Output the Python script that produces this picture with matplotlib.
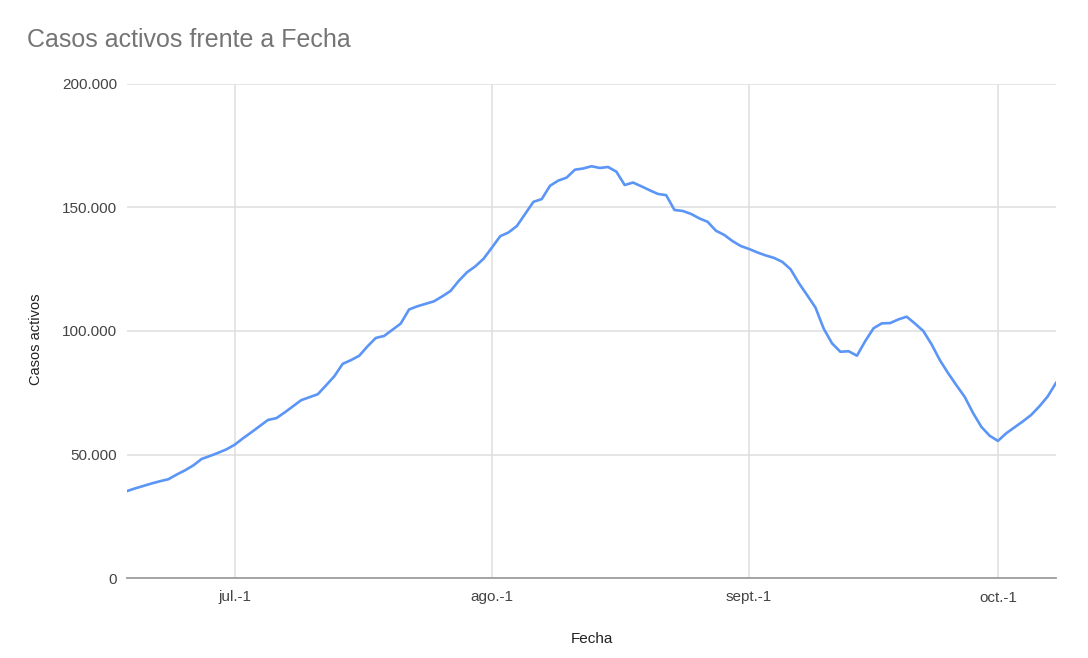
import matplotlib
matplotlib.use("Agg")
import matplotlib.pyplot as plt
from matplotlib.ticker import FuncFormatter
import numpy as np

plt.rcParams['font.family'] = ['Liberation Sans', 'DejaVu Sans']

# Data: active cases per day, 18 June -> 8 October
start_date = np.datetime64('2020-06-18')
casos = [
    # June 18-30
    35.2, 36.3, 37.3, 38.3, 39.2, 40.0, 41.9, 43.6, 45.6, 48.2, 49.4, 50.7, 52.1,
    # July
    54.0, 56.6, 59.0, 61.5, 64.0, 64.7, 67.0, 69.5, 72.0, 73.2, 74.4, 78.0, 81.7,
    86.7, 88.2, 90.0, 93.8, 97.2, 98.0, 100.5, 103.0, 108.7, 110.0, 111.0, 112.0,
    114.0, 116.2, 120.3, 123.8, 126.2, 129.3,
    # August
    133.8, 138.4, 139.9, 142.5, 147.4, 152.3, 153.4, 158.8, 160.9, 162.1, 165.3,
    165.8, 166.7, 166.0, 166.4, 164.5, 159.1, 160.1, 158.6, 157.0, 155.5, 155.0,
    149.0, 148.6, 147.4, 145.6, 144.2, 140.6, 138.9, 136.4, 134.4,
    # September
    133.2, 131.8, 130.6, 129.6, 128.0, 125.0, 119.4, 114.5, 109.5, 100.9, 95.0,
    91.6, 91.8, 90.0, 95.9, 101.1, 103.1, 103.2, 104.7, 105.8, 103.0, 100.0, 94.6,
    88.2, 82.9, 78.0, 73.3, 66.8, 61.2, 57.6,
    # October 1-8
    55.5, 58.6, 61.0, 63.4, 66.0, 69.5, 73.5, 79.0,
]
casos = np.array(casos) * 1000
fechas = start_date + np.arange(len(casos))

tick_dates = ['2020-07-01', '2020-08-01', '2020-09-01', '2020-10-01']
tick_labels = ['jul.-1', 'ago.-1', 'sept.-1', 'oct.-1']
y_ticks = [0, 50000, 100000, 150000, 200000]

fig = plt.figure(figsize=(10.88, 6.58), dpi=100)
ax = fig.add_axes([127 / 1088, 1 - 578 / 658, (1056 - 127) / 1088, (578 - 84) / 658])

ax.plot(fechas, casos, color='#5b95f5', linewidth=1.9, solid_joinstyle='round')

ax.set_xlim(fechas[0], fechas[-1])
ax.set_ylim(0, 200000)
ax.set_yticks(y_ticks)
ax.yaxis.set_major_formatter(FuncFormatter(lambda v, p: f'{int(v):,}'.replace(',', '.')))
ax.set_xticks([np.datetime64(d) for d in tick_dates])
ax.set_xticklabels(tick_labels)

ax.grid(True, color='#e0e0e0', linewidth=1.2)
ax.set_axisbelow(True)
for s in ['top', 'right', 'left']:
    ax.spines[s].set_visible(False)
ax.spines['bottom'].set_color('#9e9e9e')
ax.spines['bottom'].set_linewidth(1.3)
ax.spines['bottom'].set_zorder(3)
ax.tick_params(length=0, labelsize=11, labelcolor='#444444')
ax.tick_params(axis='y', pad=7)
ax.tick_params(axis='x', pad=9)

ax.set_xlabel('Fecha', fontsize=11, color='#222222')
ax.set_ylabel('Casos activos', fontsize=10.5, color='#222222')
ax.xaxis.set_label_coords(0.5, -0.109)
ax.yaxis.set_label_coords(-0.090, 0.484)

fig.text(27 / 1088, 1 - 40 / 658, 'Casos activos frente a Fecha', fontsize=18,
         color='#757575', va='center', ha='left')

fig.savefig('out.png', dpi=100)
